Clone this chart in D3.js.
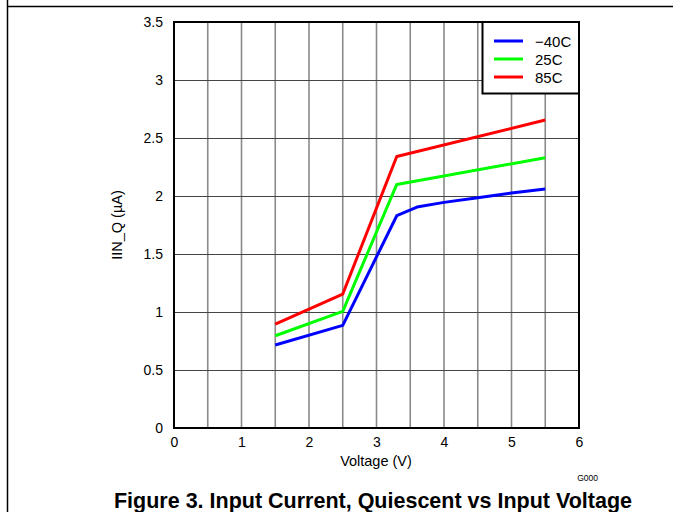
<!DOCTYPE html>
<html><head><meta charset="utf-8">
<script src="https://cdn.jsdelivr.net/npm/d3@7"></script>
<style>body{margin:0;background:#fff}svg{display:block;font-family:"Liberation Sans",Arial,sans-serif}</style>
</head><body><svg id="c" width="673" height="512"></svg>
<script>
const xTicks = [0,1,2,3,4,5,6];
const yTicks = [0,0.5,1,1.5,2,2.5,3,3.5];
const seriesNames = ["\u221240C","25C","85C"];
const seriesColors = ["#0000ff","#00ff00","#ff0000"];
const vM40 = [1.5,2.5,3.3,3.6,4.0,4.5,5.0,5.5];
const iM40 = [0.715,0.885,1.83,1.905,1.945,1.985,2.025,2.06];
const v25 = [1.5,2.5,3.3,5.5];
const i25 = [0.795,1.005,2.10,2.33];
const v85 = [1.5,2.5,3.3,5.5];
const i85 = [0.895,1.155,2.34,2.655];

const svg = d3.select("#c");
const L=174,R=579,T=22,B=428;
const x = d3.scaleLinear().domain([0,6]).range([L,R]);
const y = d3.scaleLinear().domain([0,3.5]).range([B,T]);
const FF = "Liberation Sans, Arial, sans-serif";

// page frame
svg.append("line").attr("x1",7).attr("x2",673).attr("y1",6.5).attr("y2",6.5).attr("stroke","#000").attr("stroke-width",1.5);
svg.append("line").attr("x1",7.5).attr("x2",7.5).attr("y1",0).attr("y2",512).attr("stroke","#000").attr("stroke-width",1.5);

// grid
const vg = d3.range(0.5,6,0.5);
svg.append("g").selectAll("line").data(vg).join("line")
 .attr("x1",d=>x(d)).attr("x2",d=>x(d)).attr("y1",T).attr("y2",B)
 .attr("stroke","#8a8a8a").attr("stroke-width",1.6);
const hg = d3.range(0.5,3.5,0.5);
svg.append("g").selectAll("line").data(hg).join("line")
 .attr("x1",L).attr("x2",R).attr("y1",d=>Math.round(y(d))+0.5).attr("y2",d=>Math.round(y(d))+0.5)
 .attr("stroke","#444").attr("stroke-width",1);

// axes labels
const xa = svg.append("g").attr("transform",`translate(0,${B})`)
 .call(d3.axisBottom(x).tickValues(xTicks).tickSize(0).tickPadding(9).tickFormat(d3.format("d")));
xa.select(".domain").remove();
xa.selectAll("text").attr("font-size",14).attr("fill","#000").attr("font-family",FF);
const ya = svg.append("g").attr("transform",`translate(${L},0)`)
 .call(d3.axisLeft(y).tickValues(yTicks).tickSize(0).tickPadding(11).tickFormat(d=>String(d)));
ya.select(".domain").remove();
ya.selectAll("text").attr("font-size",14).attr("fill","#000").attr("font-family",FF);

// lines
const line = d3.line().x(d=>x(d[0])).y(d=>y(d[1]));
const data = [d3.zip(vM40,iM40), d3.zip(v25,i25), d3.zip(v85,i85)];
svg.append("g").selectAll("path").data(data).join("path")
 .attr("d",line).attr("fill","none").attr("stroke",(d,i)=>seriesColors[i])
 .attr("stroke-width",3).attr("stroke-linejoin","round");

// plot border
svg.append("rect").attr("x",L).attr("y",T).attr("width",R-L).attr("height",B-T)
 .attr("fill","none").attr("stroke","#000").attr("stroke-width",2);

// legend
const lg = svg.append("g");
lg.append("rect").attr("x",482.5).attr("y",T).attr("width",R-482.5).attr("height",71.5)
 .attr("fill","#fff").attr("stroke","#000").attr("stroke-width",2);
seriesNames.forEach((n,i)=>{
  const yy = 41 + i*18;
  lg.append("line").attr("x1",494).attr("x2",523).attr("y1",yy).attr("y2",yy)
    .attr("stroke",seriesColors[i]).attr("stroke-width",3);
  lg.append("text").attr("x",535).attr("y",yy+6).attr("font-size",15).text(n);
});

// titles
svg.append("text").attr("x",376).attr("y",466).attr("text-anchor","middle").attr("font-size",14.5).text("Voltage (V)");
svg.append("text").attr("transform",`translate(122,${(T+B)/2}) rotate(-90)`).attr("text-anchor","middle").attr("font-size",14.5).text("IIN_Q (\u00b5A)");
svg.append("text").attr("x",598).attr("y",481).attr("text-anchor","end").attr("font-size",8.5).text("G000");
svg.append("text").attr("x",373).attr("y",508).attr("text-anchor","middle").attr("font-size",21.5).attr("font-weight","bold").text("Figure 3. Input Current, Quiescent vs Input Voltage");
</script></body></html>
